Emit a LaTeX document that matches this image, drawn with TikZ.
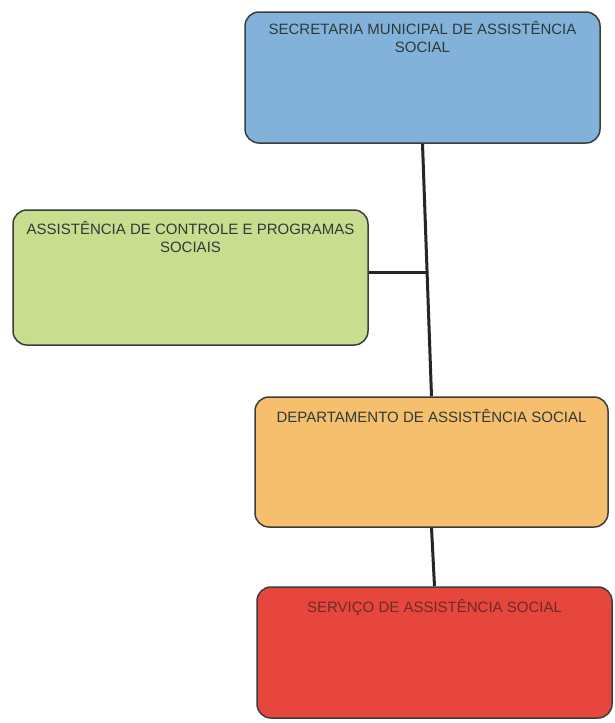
\documentclass[tikz,border=0pt]{standalone}
\usepackage{fontspec}
\setmainfont{Liberation Sans}
\definecolor{cblue}{HTML}{82B2D9}
\definecolor{cgreen}{HTML}{C8DD8E}
\definecolor{corange}{HTML}{F6BF6E}
\definecolor{cred}{HTML}{E6463C}
\definecolor{cborder}{HTML}{3A3E3A}
\definecolor{ctext}{HTML}{2E3A3A}
\definecolor{credtext}{HTML}{6E2A2A}
\begin{document}
\begin{tikzpicture}[x=1pt,y=-1pt,
  box/.style={draw=cborder, line width=1.5pt, rounded corners=14pt, minimum width=#1, inner sep=0pt},
  label/.style={anchor=north, inner sep=0pt, align=center, text=ctext, font=\fontsize{15}{18}\selectfont},
  conn/.style={line width=3pt, draw=black!85}]
\fill[white] (0,0) rectangle (615,723);
\useasboundingbox (0,0) rectangle (615,723);
\node[box=355pt, minimum height=131pt, fill=cblue] (b1) at (422.5,77.5) {};
\node[box=355pt, minimum height=135pt, fill=cgreen] (b2) at (190.5,277.5) {};
\node[box=353pt, minimum height=130pt, fill=corange] (b3) at (431.5,462) {};
\node[box=355pt, minimum height=131pt, fill=cred] (b4) at (434.5,652.5) {};
\node[label] (t1) at ([yshift=-10pt]b1.north) {SECRETARIA MUNICIPAL DE ASSISTÊNCIA\\SOCIAL};
\node[label] (t2) at ([yshift=-12pt]b2.north) {ASSISTÊNCIA DE CONTROLE E PROGRAMAS\\SOCIAIS};
\node[label] (t3) at ([yshift=-13pt]b3.north) {DEPARTAMENTO DE ASSISTÊNCIA SOCIAL};
\node[label, text=credtext] (t4) at ([yshift=-13pt]b4.north) {SERVIÇO DE ASSISTÊNCIA SOCIAL};
\coordinate (j) at (427,272);
\draw[conn] (b1.south) -- (b3.north);
\draw[conn] (j) -- (j -| b2.east);
\draw[conn] (b3.south) -- (b4.north);
\end{tikzpicture}
\end{document}
